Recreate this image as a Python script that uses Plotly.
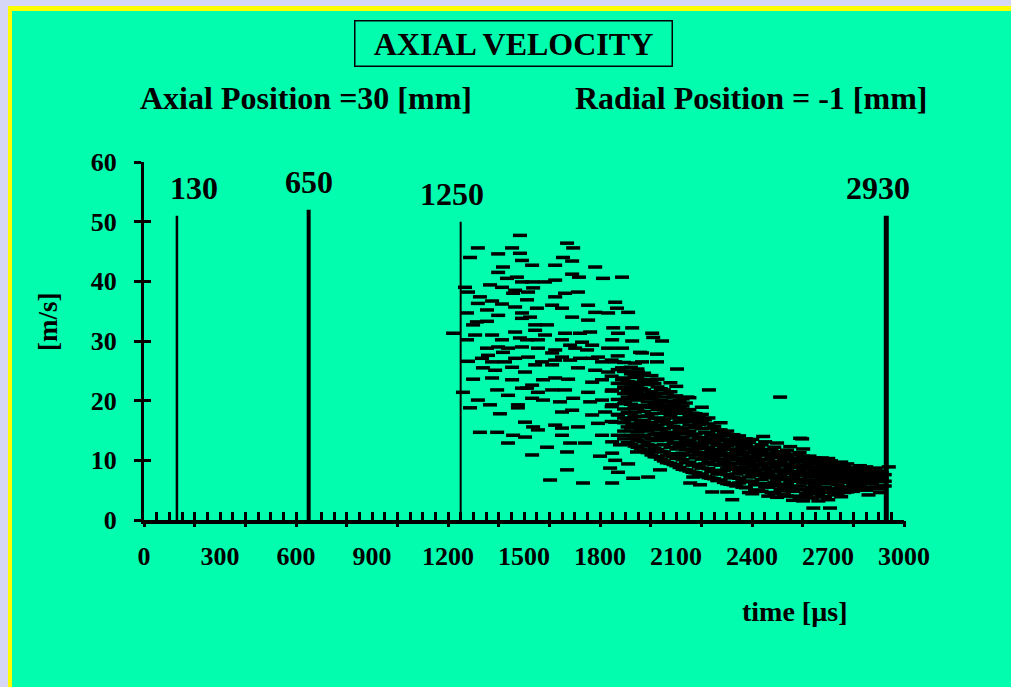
import plotly.graph_objects as go

# ---------------- data ----------------
# Sparse scatter points (time [us], axial velocity [m/s])
SPARSE_T = [1484, 1670, 1318, 1453, 1694, 1287, 1398, 1484, 1492, 1654, 1690, 1417, 1532, 1623, 1781,
            1398, 1433, 1472, 1690, 1717, 1812, 1887, 1267, 1366, 1413, 1492, 1532, 1583, 1623, 1465,
            1536, 1279, 1326, 1374, 1457, 1516, 1623, 1662, 1713, 1318, 1413, 1465, 1512, 1551, 1611,
            1650, 1753, 1860, 1867, 1275, 1354, 1398, 1492, 1524, 1690, 1781, 1832, 1911, 1314, 1354,
            1492, 1544, 1591, 1753, 1299, 1220, 1465, 1544, 1583, 1662, 1721, 1761, 1852, 1927, 1871,
            1275, 1307, 1374, 1413, 1484, 1512, 1555, 1650, 1682, 1729, 1769, 1848, 1927, 1354, 1398,
            1437, 1492, 1555, 1623, 1702, 1749, 1832, 1887, 1958, 1358, 1417, 1465, 1516, 1611, 1650,
            1721, 1792, 1279, 1334, 1374, 1425, 1571, 1623, 1682, 1769, 1808, 1860, 1938, 1338, 1386,
            1453, 1504, 1544, 1611, 1713, 1781, 1832, 1887, 1950, 1299, 1374, 1453, 1492, 1532, 1575,
            1623, 1674, 1769, 1808, 1887, 1950, 1259, 1394, 1437, 1512, 1555, 1611, 1662, 1753, 1848,
            1899, 1318, 1366, 1476, 1532, 1575, 1642, 1694, 1761, 1808, 1848, 1899, 1950, 1287, 1405,
            1476, 1650, 1690, 1769, 1820, 1871, 1938, 1504, 1536, 1623, 1650, 1713, 1792, 1860, 1927,
            1326, 1394, 1457, 1504, 1555, 1650, 1682, 1741, 1808, 1848, 1879, 1946, 1437, 1591, 1532,
            1670, 1800, 1848, 1860, 1946, 1840, 1871, 1911, 1670, 1931, 1603, 1733, 1848,
            2006, 2010, 2045, 1966, 2025, 1966, 2025, 2104, 2230, 2511, 2144, 2598, 2444, 2590,
            1990, 2037, 2156, 2195, 2243, 2302, 2322, 2168, 2642, 2708, 2860, 2905, 2940]
SPARSE_V = [47.7, 46.4, 45.6, 45.6, 45.6, 44.0, 44.6, 44.7, 43.5, 44.0, 43.4, 42.4, 42.7, 42.7, 42.4,
            41.5, 40.5, 40.7, 41.2, 40.7, 40.5, 40.7, 39.0, 39.4, 39.0, 39.9, 39.9, 39.9, 40.2, 38.5,
            38.9, 38.2, 37.4, 36.7, 38.0, 38.2, 37.4, 38.0, 38.2, 36.3, 36.2, 35.7, 36.9, 35.5, 36.0,
            35.5, 36.0, 36.5, 35.5, 34.7, 35.2, 34.3, 34.7, 34.0, 34.0, 34.8, 34.7, 34.8, 33.2, 33.3,
            33.8, 32.7, 32.7, 33.5, 32.7, 31.3, 31.5, 31.8, 31.0, 31.3, 31.3, 31.5, 32.2, 32.2, 31.3,
            30.2, 31.0, 31.0, 30.2, 30.5, 30.2, 30.2, 30.2, 29.3, 29.8, 29.3, 30.2, 30.0, 28.8, 29.0,
            28.8, 29.0, 28.8, 28.5, 28.8, 28.5, 28.8, 28.8, 28.1, 27.6, 28.1, 27.1, 27.3, 28.0, 27.3,
            27.1, 27.3, 26.6, 27.1, 26.5, 26.5, 26.5, 26.8, 26.8, 27.1, 26.5, 26.5, 26.3, 25.5, 25.1,
            25.6, 24.8, 26.0, 26.0, 25.5, 25.1, 24.8, 25.5, 24.8, 23.6, 23.8, 23.5, 22.1, 22.6, 23.5,
            23.8, 23.6, 23.1, 23.5, 23.5, 23.1, 21.4, 21.8, 20.9, 22.1, 21.4, 21.8, 21.8, 21.4, 21.8,
            22.1, 20.1, 19.3, 19.3, 20.4, 20.1, 19.8, 20.4, 19.8, 20.1, 19.3, 19.8, 20.4, 18.8, 17.8,
            18.8, 18.1, 18.4, 17.6, 18.1, 17.6, 18.1, 16.4, 15.6, 15.9, 15.4, 15.6, 16.2, 16.4, 15.9,
            14.7, 14.7, 14.2, 13.9, 15.1, 14.2, 12.9, 12.9, 14.2, 13.1, 12.6, 14.2, 12.9, 12.2, 10.9,
            11.4, 10.7, 11.2, 10.0, 11.4, 8.7, 8.0, 9.4, 8.4, 7.0, 6.7, 6.2, 6.2,
            31.3, 30.6, 30.0, 28.0, 27.8, 26.5, 26.5, 25.3, 21.8, 20.6, 20.6, 13.6, 14.0, 13.7,
            7.2, 8.4, 6.2, 5.9, 4.7, 4.7, 3.4, 7.2, 2.0, 2.0, 4.2, 4.6, 8.9]

# Dense band: column times [us] and the velocities [m/s] recorded in each column
BAND_T = [1846, 1870, 1895, 1922, 1948, 1974, 2003, 2027, 2052, 2078, 2101, 2126, 2153, 2177,
          2202, 2228, 2251, 2276, 2302, 2327, 2349, 2376, 2401, 2424, 2452, 2477, 2499, 2526,
          2551, 2574, 2602, 2627, 2648, 2676, 2701, 2724, 2752, 2776, 2799, 2826, 2851, 2874,
          2899, 2924]
BAND_V = [
    [16.5, 19.0, 21.6, 24.1, 26.8],
    [14.2, 17.7, 20.2, 22.9, 25.2, 27.5],
    [13.6, 14.9, 16.3, 17.1, 18.6, 19.5, 21.2, 22.3, 23.8, 24.9, 26.4],
    [12.7, 14.2, 15.4, 16.8, 17.9, 19.4, 20.3, 21.9, 22.8, 24.5, 25.6],
    [12.2, 13.3, 14.8, 15.9, 17.4, 18.7, 20.1, 21.4, 22.6, 23.9, 25.3],
    [11.5, 13.1, 14.2, 15.7, 16.7, 18.2, 19.1, 20.8, 21.8, 23.5, 24.6],
    [10.9, 12.5, 13.7, 15.2, 16.3, 17.8, 18.9, 20.4, 21.5, 23.1, 24.2],
    [10.6, 11.8, 13.3, 14.5, 15.9, 17.1, 18.5, 19.7, 21.2, 22.3, 23.6],
    [9.9, 11.4, 12.6, 14.1, 15.3, 16.8, 17.9, 19.3, 20.6, 21.8],
    [9.5, 11.1, 12.2, 13.7, 14.7, 16.3, 17.4, 18.9, 19.9, 21.5, 23.0],
    [9.1, 10.3, 11.9, 12.9, 14.5, 15.5, 17.1, 18.2, 19.7, 20.8, 22.4],
    [8.5, 10.1, 11.2, 12.7, 13.9, 15.3, 16.4, 17.9, 19.1, 20.3],
    [8.2, 9.7, 10.9, 12.4, 13.4, 14.9, 15.9, 17.4, 18.5, 20.5],
    [7.9, 9.3, 10.4, 11.9, 12.9, 14.4, 15.5, 16.9, 17.8],
    [7.7, 8.7, 10.2, 11.3, 12.7, 13.8, 15.3, 16.3, 17.7, 18.9],
    [7.1, 8.6, 9.7, 11.1, 12.2, 13.6, 14.6, 16.1, 17.1],
    [6.9, 8.3, 9.3, 10.7, 11.8, 13.2, 14.2, 15.7],
    [6.7, 7.8, 9.2, 10.2, 11.7, 12.7, 14.1, 15.1, 16.3],
    [6.1, 7.6, 8.6, 10.1, 11.1, 12.5, 13.5, 14.9],
    [5.9, 7.1, 8.5, 9.5, 10.9, 11.9, 13.3, 14.3],
    [6.2, 7.0, 8.0, 9.4, 10.4, 11.8, 12.8, 14.1],
    [5.4, 6.5, 7.9, 8.9, 10.3, 11.3, 12.7, 13.6],
    [4.4, 6.5, 7.5, 8.9, 9.9, 11.3, 12.2, 13.5],
    [5.0, 6.1, 7.5, 8.5, 9.9, 10.9, 12.2],
    [5.6, 6.1, 7.1, 8.5, 9.5, 10.9, 11.8, 13.1],
    [4.6, 5.7, 7.1, 8.1, 9.5, 10.5, 11.8],
    [3.8, 5.8, 6.8, 8.1, 9.1, 10.5, 11.4, 12.9],
    [4.3, 5.4, 6.8, 7.8, 9.1, 10.1, 11.4],
    [4.9, 5.5, 6.5, 7.8, 8.8, 10.1, 11.0, 12.3],
    [4.0, 5.1, 6.5, 7.4, 8.8, 9.7, 11.0],
    [3.2, 5.2, 6.2, 7.5, 8.5, 9.8, 10.7, 11.9],
    [3.8, 4.9, 6.3, 7.2, 8.6, 9.5, 10.7],
    [4.5, 5.1, 6.0, 7.3, 8.3, 9.6, 10.4],
    [3.9, 4.9, 6.2, 7.1, 8.4, 9.3, 10.4],
    [3.4, 5.2, 6.1, 7.4, 8.3, 9.5, 10.3],
    [4.2, 5.2, 6.5, 7.3, 8.6, 9.4],
    [3.9, 5.5, 6.4, 7.6, 8.5, 9.7],
    [4.7, 5.5, 6.7, 7.5, 8.7, 9.4],
    [4.8, 5.9, 6.7, 7.9, 8.7],
    [5.1, 5.9, 7.1, 7.9, 9.1],
    [5.0, 6.2, 7.0, 8.2, 8.9],
    [5.3, 6.1, 7.3, 8.1],
    [5.2, 6.4, 7.2, 8.2],
    [5.7, 6.5, 7.6],
]

# Second, interleaved set of band columns
BAND2_T = [1909, 1936, 1961, 1988, 2015, 2040, 2064, 2090, 2114, 2139, 2165, 2190, 2214, 2239,
           2263, 2289, 2314, 2338, 2362, 2388, 2412, 2438, 2464, 2488, 2513, 2538, 2562, 2588,
           2614, 2637, 2662, 2688, 2712, 2738, 2764, 2788, 2812, 2838, 2862, 2887, 2912]
BAND2_V = [
    [13.0, 15.6, 16.9, 18.0, 20.6, 21.7, 23.2, 25.5],
    [12.4, 13.8, 16.1, 17.3, 18.9, 20.9, 22.2, 24.0],
    [11.9, 13.9, 15.3, 16.5, 19.2, 20.5, 22.0, 24.4],
    [11.3, 12.6, 14.9, 16.0, 17.4, 19.8, 21.0, 22.7],
    [10.6, 12.0, 14.3, 15.6, 17.0, 19.4, 20.8, 22.9],
    [10.2, 11.5, 13.8, 15.1, 16.5, 18.9, 20.0, 22.0],
    [9.6, 10.8, 13.4, 14.6, 16.1, 18.4, 19.9, 21.2],
    [9.3, 10.6, 12.9, 14.2, 15.7, 17.9, 19.3, 20.6],
    [8.8, 10.7, 12.3, 13.6, 15.0, 16.6, 18.7, 20.0],
    [8.4, 9.6, 11.8, 13.2, 14.5, 16.9, 18.3, 19.6],
    [8.0, 9.2, 11.5, 12.8, 14.1, 16.5, 17.9],
    [7.6, 8.9, 11.0, 12.3, 13.6, 16.0, 17.2],
    [7.3, 9.4, 10.7, 12.0, 13.2, 14.7, 16.8],
    [7.0, 8.1, 10.3, 11.6, 12.9, 14.2, 15.4],
    [6.6, 7.7, 9.9, 11.2, 12.5, 13.7, 15.0],
    [6.3, 8.3, 9.6, 10.8, 12.1, 13.3, 14.6],
    [6.0, 7.1, 9.1, 10.5, 11.8, 13.0, 14.1],
    [5.7, 7.7, 8.8, 10.1, 11.4, 12.6, 13.8],
    [5.5, 6.4, 8.5, 9.8, 11.0, 12.2, 13.3],
    [4.6, 7.2, 8.3, 9.5, 10.7, 11.9, 13.0],
    [5.0, 5.9, 8.0, 9.3, 10.5, 11.7],
    [4.8, 6.8, 7.9, 9.1, 10.2, 11.5, 12.6],
    [4.0, 5.5, 7.6, 8.9, 10.1, 11.2],
    [4.4, 6.3, 7.4, 8.7, 9.8, 11.0, 12.2],
    [4.9, 5.1, 7.3, 8.4, 9.6, 10.8],
    [4.0, 6.0, 7.1, 8.3, 9.4, 10.6, 11.7],
    [3.3, 4.8, 6.9, 8.1, 9.2, 10.4],
    [3.7, 5.7, 6.8, 8.0, 9.1, 10.2, 11.3],
    [4.2, 4.5, 6.7, 7.9, 9.0, 10.1],
    [3.7, 5.5, 6.6, 7.8, 8.9, 10.0],
    [3.2, 4.4, 6.6, 7.7, 8.8, 9.9],
    [3.9, 5.5, 6.6, 7.8, 8.8, 9.8],
    [4.6, 4.7, 6.8, 7.9, 8.9, 9.9],
    [4.4, 5.9, 6.9, 8.0, 9.0],
    [4.6, 5.1, 7.1, 8.1, 9.1],
    [4.9, 6.3, 7.2, 8.3],
    [5.2, 5.5, 6.3, 7.4, 8.4],
    [5.4, 6.6, 7.6, 8.6],
    [5.5, 6.6, 7.7, 8.5],
    [5.5, 6.8, 7.7, 8.7],
    [5.7, 6.9, 7.9],
]

# Marker lines (time instants) and their heights
MARK_T = [130, 650, 1250, 2930]
MARK_TOP = [51, 52, 50, 51]
MARK_LABELS = ["130", "650", "1250", "2930"]

X_TICKS = [0, 300, 600, 900, 1200, 1500, 1800, 2100, 2400, 2700, 3000]
Y_TICKS = [0, 10, 20, 30, 40, 50, 60]

# ---------------- styling ----------------
GREEN = "#03FDAF"
LAVENDER = "#D6D6F7"
YELLOW = "#FFFF00"
SERIF = "Liberation Serif, Times New Roman, serif"
MARK_WIDTHS = [2.5, 4, 2, 5]
MARK_XSHIFT = [17, 0, -9, -8]

L, R, T, B = 144, 107, 162, 167
W, H = 1011, 687
PW, PH = W - L - R, H - T - B


def px(x):
    return (x - L) / PW


def py(y):
    return (H - B - y) / PH


all_t = list(SPARSE_T)
all_v = list(SPARSE_V)
for cols, rows in ((BAND_T, BAND_V), (BAND2_T, BAND2_V)):
    for t, vs in zip(cols, rows):
        for v in vs:
            all_t.append(t)
            all_v.append(v)

fig = go.Figure()

for t, top, w in zip(MARK_T, MARK_TOP, MARK_WIDTHS):
    fig.add_trace(go.Scatter(x=[t, t], y=[0, top], mode="lines",
                             line=dict(color="black", width=w), showlegend=False,
                             hoverinfo="skip"))

fig.add_trace(go.Scatter(x=all_t, y=all_v, mode="markers",
                         marker=dict(symbol="line-ew", size=10,
                                     line=dict(width=3.5, color="black")),
                         showlegend=False, cliponaxis=False))

# empty traces to register overlay axes (extra tick marks)
fig.add_trace(go.Scatter(x=[], y=[], xaxis="x2", yaxis="y", showlegend=False))
fig.add_trace(go.Scatter(x=[], y=[], xaxis="x3", yaxis="y", showlegend=False))
fig.add_trace(go.Scatter(x=[], y=[], xaxis="x", yaxis="y2", showlegend=False))

tickfont = dict(family=SERIF, size=26, color="black", weight="bold")

fig.update_layout(
    width=W, height=H,
    margin=dict(l=L, r=R, t=T, b=B, autoexpand=False),
    paper_bgcolor=LAVENDER,
    plot_bgcolor="rgba(0,0,0,0)",
    showlegend=False,
    xaxis=dict(range=[0, 3000], tickmode="array", tickvals=X_TICKS,
               ticktext=[str(v) for v in X_TICKS], ticks="", showgrid=False,
               zeroline=False, showline=True, linecolor="black", linewidth=4,
               tickfont=tickfont, ticklabelstandoff=10),
    xaxis2=dict(range=[0, 3000], overlaying="x", anchor="y", side="bottom",
                tickmode="linear", tick0=0, dtick=200, ticks="outside",
                ticklen=6, tickwidth=3, tickcolor="black", showticklabels=False,
                showgrid=False, zeroline=False, showline=False),
    xaxis3=dict(range=[0, 3000], overlaying="x", anchor="y", side="bottom",
                tickmode="linear", tick0=0, dtick=50, ticks="inside",
                ticklen=8, tickwidth=2.5, tickcolor="black", showticklabels=False,
                showgrid=False, zeroline=False, showline=False),
    yaxis=dict(range=[0, 60], tickmode="array", tickvals=Y_TICKS, ticks="outside",
               ticklen=7, tickwidth=3, tickcolor="black", showgrid=False,
               zeroline=False, showline=True, linecolor="black", linewidth=3,
               tickfont=tickfont, ticklabelstandoff=12),
    yaxis2=dict(range=[0, 60], overlaying="y", anchor="x", side="left",
                tickmode="array", tickvals=Y_TICKS, ticks="inside", ticklen=7,
                tickwidth=3, tickcolor="black", showticklabels=False,
                showgrid=False, zeroline=False, showline=False),
)

# frame: yellow border and green panel
fig.add_shape(type="rect", xref="paper", yref="paper", layer="below",
              x0=px(8), x1=px(W + 20), y0=py(H + 20), y1=py(6),
              fillcolor=YELLOW, line=dict(width=0))
fig.add_shape(type="rect", xref="paper", yref="paper", layer="below",
              x0=px(12), x1=px(W + 20), y0=py(H + 20), y1=py(11),
              fillcolor=GREEN, line=dict(width=0))

big = dict(family=SERIF, size=32, color="black", weight="bold")
ctr = dict(xref="paper", yref="paper", showarrow=False, xanchor="center", yanchor="middle")

fig.add_annotation(x=px(513), y=py(44), text="AXIAL VELOCITY", font=big,
                   bordercolor="black", borderwidth=1.5, borderpad=0,
                   width=316, height=44, **ctr)
fig.add_annotation(x=px(306), y=py(98), text="Axial Position =30 [mm]", font=big, **ctr)
fig.add_annotation(x=px(751), y=py(98), text="Radial Position = -1 [mm]", font=big, **ctr)
fig.add_annotation(x=px(48), y=py(322), text="[m/s]", textangle=-90,
                   font=dict(family=SERIF, size=27, color="black", weight="bold"), **ctr)
fig.add_annotation(x=px(795), y=py(611), text="time [µs]",
                   font=dict(family=SERIF, size=28, color="black", weight="bold"), **ctr)

for t, top, lab, xs in zip(MARK_T, MARK_TOP, MARK_LABELS, MARK_XSHIFT):
    fig.add_annotation(x=t, y=top, xref="x", yref="y", text=lab, showarrow=False,
                       xanchor="center", yanchor="bottom", yshift=8, xshift=xs, font=big)

fig.write_html("out.html", config={"displayModeBar": False},
               post_script="document.body.style.margin='0';document.body.style.padding='0';")
